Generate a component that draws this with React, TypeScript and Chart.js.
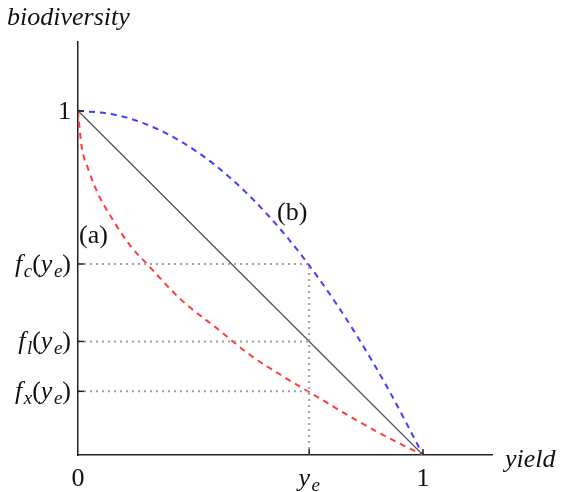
import React, { useEffect, useRef } from "react";
import { Chart, registerables } from "chart.js";

Chart.register(...registerables);

// Curve (a): convex, below the line
const redX = [0, 0.01, 0.03, 0.06, 0.1, 0.15, 0.2, 0.3, 0.4, 0.5, 0.6, 0.7, 0.8, 0.9, 1];
const redY = [1, 0.9, 0.83, 0.755, 0.685, 0.61, 0.555, 0.45, 0.37, 0.29, 0.225, 0.165, 0.105, 0.05, 0];
// Curve (b): concave, above the line
const blueX = [0, 0.1, 0.2, 0.3, 0.4, 0.5, 0.6, 0.7, 0.8, 0.9, 1];
const blueY = [1, 0.99, 0.96, 0.91, 0.84, 0.75, 0.64, 0.51, 0.36, 0.19, 0];
// Linear
const lineX = [0, 1];
const lineY = [1, 0];
// Marked levels
const ye = 0.67;
const fc = 0.555;
const fl = 0.33;
const fx = 0.185;
const axisMax = 1.2;

type Seg = { t: string; it?: boolean; sub?: boolean };
const yLabels: { v: number; segs: Seg[] }[] = [
  { v: 1, segs: [{ t: "1" }] },
  { v: fc, segs: [{ t: "f", it: true }, { t: "c", it: true, sub: true }, { t: "(" }, { t: "y", it: true }, { t: "e", it: true, sub: true }, { t: ")" }] },
  { v: fl, segs: [{ t: "f", it: true }, { t: "l", it: true, sub: true }, { t: "(" }, { t: "y", it: true }, { t: "e", it: true, sub: true }, { t: ")" }] },
  { v: fx, segs: [{ t: "f", it: true }, { t: "x", it: true, sub: true }, { t: "(" }, { t: "y", it: true }, { t: "e", it: true, sub: true }, { t: ")" }] },
];
const xLabels: { v: number; segs: Seg[] }[] = [
  { v: 0, segs: [{ t: "0" }] },
  { v: ye, segs: [{ t: "y", it: true }, { t: "e", it: true, sub: true }] },
  { v: 1, segs: [{ t: "1" }] },
];

const FAM = '"Liberation Serif", "DejaVu Serif", serif';
const SIZE = 26;
const SUB = 19;

function fontOf(s: Seg) {
  return `${s.it ? "italic " : ""}${s.sub ? SUB : SIZE}px ${FAM}`;
}
function widthOf(ctx: CanvasRenderingContext2D, segs: Seg[]) {
  let w = 0;
  for (const s of segs) {
    ctx.font = fontOf(s);
    w += ctx.measureText(s.t).width + (s.it && !s.sub ? 1.5 : 0);
  }
  return w;
}
function drawSegs(ctx: CanvasRenderingContext2D, segs: Seg[], x: number, y: number) {
  let cx = x;
  ctx.textBaseline = "alphabetic";
  ctx.textAlign = "left";
  for (const s of segs) {
    ctx.font = fontOf(s);
    ctx.fillText(s.t, cx, s.sub ? y + 5 : y);
    cx += ctx.measureText(s.t).width + (s.it && !s.sub ? 1.5 : 0);
  }
}

const annotPlugin = {
  id: "annot",
  afterDraw(chart: any) {
    const ctx: CanvasRenderingContext2D = chart.ctx;
    const xs = chart.scales.x;
    const ys = chart.scales.y;
    ctx.save();
    ctx.fillStyle = "#111";
    ctx.strokeStyle = "#222";
    ctx.lineWidth = 1.5;
    const x0 = xs.getPixelForValue(0);
    const y0 = ys.getPixelForValue(0);
    for (const l of yLabels) {
      const py = ys.getPixelForValue(l.v);
      ctx.beginPath();
      ctx.moveTo(x0, py);
      ctx.lineTo(x0 + 6, py);
      ctx.stroke();
      const w = widthOf(ctx, l.segs);
      drawSegs(ctx, l.segs, x0 - 7 - w, py + 8);
    }
    for (const l of xLabels) {
      const px = xs.getPixelForValue(l.v);
      if (l.v > 0) {
        ctx.beginPath();
        ctx.moveTo(px, y0);
        ctx.lineTo(px, y0 - 6);
        ctx.stroke();
      }
      const w = widthOf(ctx, l.segs);
      drawSegs(ctx, l.segs, px - w / 2, y0 + 31);
    }
    ctx.font = `italic ${SIZE}px ${FAM}`;
    ctx.textAlign = "left";
    ctx.fillText("biodiversity", 7, 25);
    ctx.fillText("yield", xs.right + 13, y0 + 12);
    ctx.font = `${SIZE}px ${FAM}`;
    ctx.fillText("(a)", 79, 243);
    ctx.fillText("(b)", 277, 220);
    ctx.restore();
  },
};

const pts = (xs: number[], ys: number[]) => xs.map((x, i) => ({ x, y: ys[i] }));

export default function App() {
  const ref = useRef<HTMLCanvasElement>(null);
  useEffect(() => {
    document.body.style.margin = "0";
    const dotted = { borderColor: "#a0a0a0", borderWidth: 2, borderDash: [2, 4], pointRadius: 0, showLine: true, fill: false };
    const chart = new Chart(ref.current!, {
      type: "scatter",
      data: {
        datasets: [
          { ...dotted, data: [{ x: 0, y: fc }, { x: ye, y: fc }] },
          { ...dotted, data: [{ x: 0, y: fl }, { x: ye, y: fl }] },
          { ...dotted, data: [{ x: 0, y: fx }, { x: ye, y: fx }] },
          { ...dotted, data: [{ x: ye, y: 0 }, { x: ye, y: fc }] },
          { data: pts(lineX, lineY), showLine: true, borderColor: "#555", borderWidth: 1.3, pointRadius: 0 },
          { data: pts(redX, redY), showLine: true, borderColor: "#ff3b3b", borderWidth: 2, borderDash: [6, 5], pointRadius: 0, cubicInterpolationMode: "monotone" },
          { data: pts(blueX, blueY), showLine: true, borderColor: "#3f3fff", borderWidth: 2, borderDash: [6, 5], pointRadius: 0, cubicInterpolationMode: "monotone" },
        ] as any,
      },
      options: {
        animation: false,
        responsive: false,
        maintainAspectRatio: false,
        layout: { padding: { left: 78, top: 42, right: 71, bottom: 37 } },
        plugins: { legend: { display: false }, tooltip: { enabled: false } },
        scales: {
          x: {
            type: "linear", min: 0, max: axisMax,
            ticks: { display: false },
            grid: { display: false, drawTicks: false },
            border: { display: true, color: "#222", width: 1.5 },
            afterFit: (s: any) => { s.height = 0; },
          },
          y: {
            type: "linear", min: 0, max: axisMax,
            ticks: { display: false },
            grid: { display: false, drawTicks: false },
            border: { display: true, color: "#222", width: 1.5 },
            afterFit: (s: any) => { s.width = 0; },
          },
        },
      },
      plugins: [annotPlugin],
    });
    return () => chart.destroy();
  }, []);
  return (
    <div style={{ position: "relative", width: 563, height: 492, background: "#fff" }}>
      <canvas ref={ref} width={563} height={492} />
    </div>
  );
}
